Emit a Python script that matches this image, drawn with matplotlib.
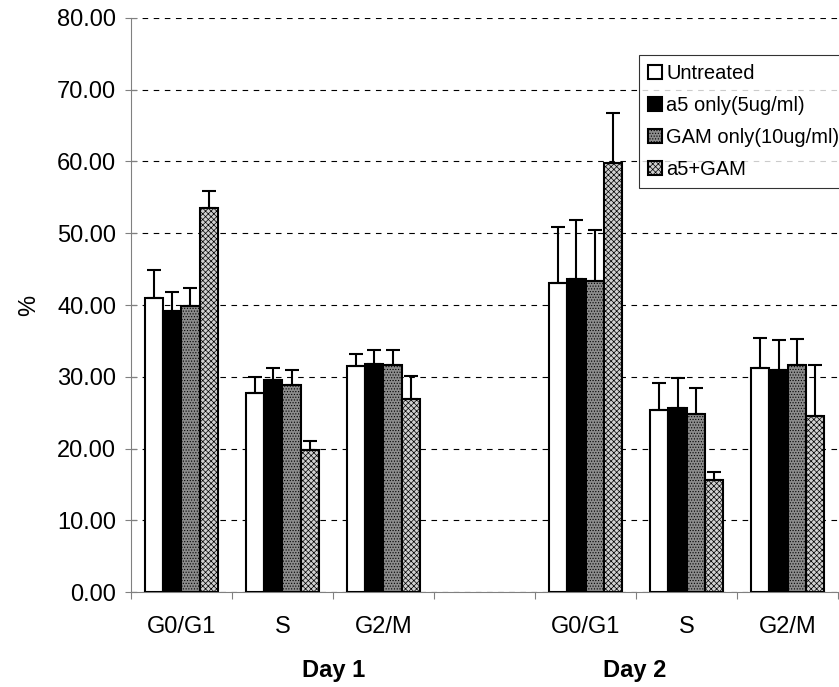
import matplotlib.pyplot as plt
import numpy as np

plt.rcParams['font.family'] = ['Liberation Sans', 'DejaVu Sans']
plt.rcParams['hatch.linewidth'] = 0.5

phases = ["G0/G1", "S", "G2/M", "", "G0/G1", "S", "G2/M"]
series = ["Untreated", "a5 only(5ug/ml)", "GAM only(10ug/ml)", "a5+GAM"]

# day 1 then day 2, one value per phase (G0/G1, S, G2/M)
untreated = [41.0, 27.7, 31.5, 43.1, 25.4, 31.2]
a5_only = [39.1, 29.6, 31.8, 43.6, 25.6, 30.9]
gam_only = [39.8, 28.9, 31.6, 43.4, 24.8, 31.7]
a5_gam = [53.5, 19.8, 26.9, 59.8, 15.6, 24.5]

# upper error bars
untreated_err = [3.9, 2.3, 1.7, 7.8, 3.7, 4.2]
a5_only_err = [2.7, 1.6, 2.0, 8.2, 4.2, 4.2]
gam_only_err = [2.6, 2.1, 2.1, 7.1, 3.7, 3.5]
a5_gam_err = [2.4, 1.3, 3.2, 7.0, 1.1, 7.2]

values = [untreated, a5_only, gam_only, a5_gam]
errors = [untreated_err, a5_only_err, gam_only_err, a5_gam_err]
faces = ["white", "black", "#8c8c8c", "#d0d0d0"]
hatches = [None, None, "......", "xxxxxx"]

x = np.array([0, 1, 2, 4, 5, 6])
width = 0.18

fig = plt.figure(figsize=(8.39, 6.87), dpi=100)
ax = fig.add_axes([0.156, 0.138, 0.843, 0.836])

for i in range(4):
    pos = x + (i - 1.5) * width
    ax.bar(pos, values[i], width, color=faces[i], edgecolor="black", linewidth=1.5,
           hatch=hatches[i], label=series[i], zorder=3)
    ax.errorbar(pos, values[i], yerr=[np.zeros(6), errors[i]], fmt="none",
                ecolor="black", elinewidth=1.5, capsize=5, capthick=1.5, zorder=4)

ax.set_ylim(0, 80)
ax.set_xlim(-0.5, 6.5)
ax.set_yticks(np.arange(0, 81, 10))
ax.set_yticklabels([f"{v:.2f}" for v in np.arange(0, 81, 10)], fontsize=17)
ax.yaxis.grid(True, linestyle=(0, (5, 5)), color="black", linewidth=0.8)
ax.set_axisbelow(True)

ax.set_xticks(np.arange(-0.5, 7, 1))
ax.set_xticklabels([])
ax.set_xticks(np.arange(0, 7), minor=True)
ax.set_xticklabels(phases, minor=True, fontsize=17)
ax.tick_params(axis="x", which="minor", length=0, pad=17)
ax.tick_params(axis="x", which="major", length=5, color="gray")
ax.tick_params(axis="y", direction="inout", length=9, color="gray", pad=6)

for s in ["top", "right"]:
    ax.spines[s].set_visible(False)
ax.spines["left"].set_color("gray")
ax.spines["bottom"].set_color("gray")

ax.set_ylabel("%", fontsize=17, labelpad=12)

fig.text(334 / 839, 1 - 671 / 687, "Day 1", ha="center", va="center", fontsize=17, fontweight="bold")
fig.text(635 / 839, 1 - 671 / 687, "Day 2", ha="center", va="center", fontsize=17, fontweight="bold")

leg = ax.legend(loc="upper left", bbox_to_anchor=(0.7185, 0.9355), fontsize=14.5,
                frameon=True, fancybox=False, edgecolor="black", handlelength=0.7,
                handleheight=0.7, handletextpad=0.2, borderpad=0.45, labelspacing=0.65,
                borderaxespad=0)
leg.get_frame().set_linewidth(0.8)

plt.savefig("out.png", dpi=100)
